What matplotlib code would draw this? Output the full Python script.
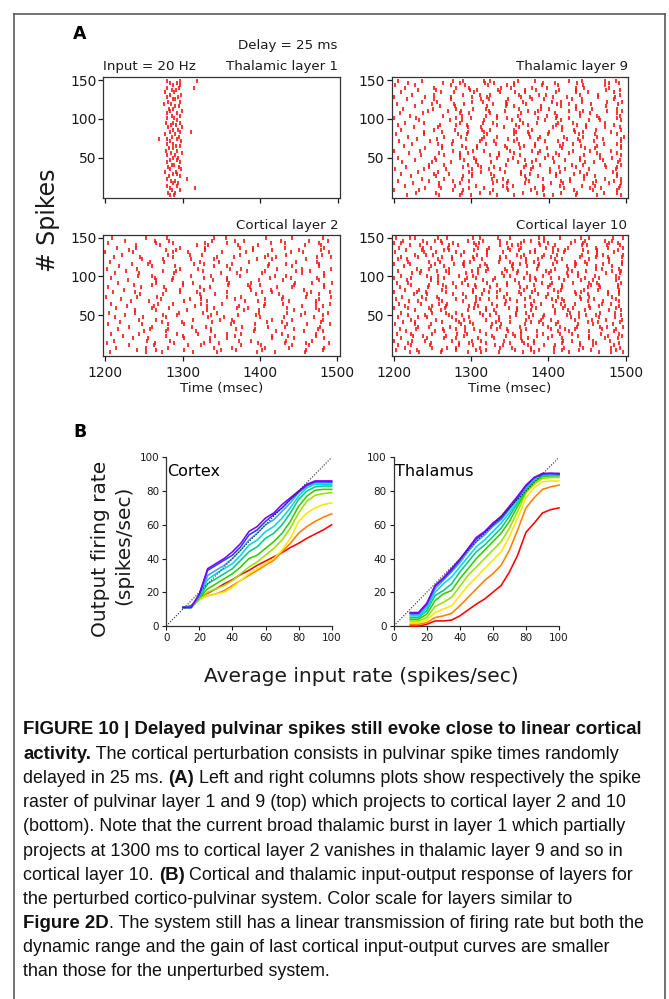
import matplotlib
matplotlib.use("Agg")
import matplotlib.pyplot as plt
from matplotlib.lines import Line2D

# ---------------- data ----------------
T0 = 1200  # spike times are stored as ms after T0
# raster rows: one string per cell row, top row = cell 149, step 3 cells
thal1_rows = [
    "79 96 118", "84 92", "88 97", "80 95 114", "86 91", "77 89", "83 98", "79 94",
    "87 90", "81 97", "76 85", "90 95", "82 88", "84 99", "79 93", "86 97",
    "80 89", "92", "78 87 96", "85 91", "81 99", "88 94", "83 97 111", "77 90",
    "86 95", "69 80 92", "84 98", "79 88", "91 96", "82 87", "78 93", "85 99",
    "80 90", "87 94", "83 92", "79 97", "86 89", "81 95", "84 98", "77 91",
    "88 93", "82 96", "80 106", "85 90", "87 94", "79 92", "83 116", "86 97",
    "81 90", "84 89",
]
thal9_rows = [
    "6 37 77 89 116 125 160 182 226 243 273 287",
    "19 64 85 118 129 155 193 208 237 278 291",
    "2 27 74 92 122 146 156 192 212 245 273",
    "14 52 81 97 139 152 179 198 235 246 278",
    "31 55 98 107 135 170 184 214 235 274 292",
    "9 61 78 104 137 157 169 210 235 251 285",
    "23 52 90 111 125 162 188 197 241 264 292",
    "0 41 74 101 120 165 176 206 224 264 286",
    "17 52 74 113 123 147 178 194 230 243 285",
    "36 56 101 115 145 167 204 216 243 276 295",
    "4 50 78 91 128 146 171 211 226 255 290",
    "27 60 79 121 145 156 190 216 236 274",
    "12 51 81 103 119 162 190 200 235 256 288",
    "44 70 87 123 144 173 187 226 244 275 295",
    "8 38 86 97 124 164 183 208 241 253 289",
    "21 64 88 119 134 160 198 211 240 262 292",
    "1 29 80 100 134 146 187 210 227 265 289",
    "33 73 88 116 153 163 195 216 252 266 293",
    "15 39 85 115 128 167 185 212 232 273",
    "5 60 81 95 133 158 174 209 237 248 285",
    "26 57 96 113 142 162 206 218 248 273 292",
    "10 52 79 114 125 156 178 217 233 261 294",
    "39 62 96 116 158 173 201 234 244 281",
    "3 39 83 95 121 156 175 199 239 260 289",
    "18 65 87 117 133 176 189 220 245 263 297",
    "30 56 93 114 148 159 186 224 238 270 293",
    "7 47 76 112 130 155 196 212 240 259 294",
    "24 57 75 119 132 162 183 219 231 271 288",
    "13 63 88 107 144 168 183 215 242 262 293",
    "41 63 93 107 146 163 198 218 247 260 293",
    "0 34 76 102 117 150 178 189 232 254 281",
    "20 58 85 96 136 155 186 210 227 263 288",
    "35 65 86 124 136 163 199 214 246 266 294",
    "6 53 86 104 133 154 196 206 240 266 282",
    "28 55 91 106 147 170 184 221 240 270 292",
    "11 50 74 106 126 161 178 207 247 259 290",
    "45 65 96 109 145 171 189 230 245 273 294",
    "16 45 90 113 130 168 180 213 235 274 288",
    "2 39 67 101 123 137 177 202 221 252 287",
    "32 57 97 113 144 165 202 215 241 283",
    "9 52 71 101 126 165 176 210 233 250 288",
    "22 54 89 101 129 170 186 210 246 260 289",
    "37 65 88 127 141 171 193 228 246 273 293",
    "5 45 77 97 133 148 175 216 228 261 285",
    "25 59 85 128 146 170 203 219 257 278 293",
    "14 59 79 106 141 154 193 215 243 260 292",
    "40 61 97 116 146 183 194 220 253 268 291",
    "1 33 76 90 128 148 177 193 233 258 288",
    "29 55 88 112 125 167 185 216 237 272 289",
    "17 58 85 100 134 156 194 206 236 262 293",
]
cort2_rows = [
    "9 53 80 141 156 208 241 281", "26 64 83 138 168 180 227 263 288",
    "3 66 88 129 157 214 232 277", "40 71 119 133 172 198 258 279",
    "15 40 96 129 174 191 233 283", "31 78 91 129 191 215 250 279",
    "0 36 87 107 151 182 240 256 289", "22 81 109 125 174 211 234 280",
    "11 45 87 145 166 206 221 274 292", "48 74 111 141 196 215 259",
    "6 58 76 122 147 186 247 274", "34 55 115 128 164 212 234 277",
    "18 61 90 140 157 211 241 276", "2 41 96 120 161 175 222 254 292",
    "27 75 91 126 183 206 246 265", "13 44 89 150 170 203 255 283",
    "42 61 111 137 174 219 234 283", "7 64 88 128 157 213 240 274",
    "29 65 86 139 157 199 230 277", "16 65 100 114 160 188 245 267 293",
    "37 60 101 159 184 200 244 283", "4 46 76 123 136 187 222 242 283",
    "24 79 96 128 188 214 257", "10 38 97 119 157 202 216 266 290",
    "45 75 123 142 195 224 261 277", "1 41 67 124 157 175 230 260 292",
    "20 72 109 124 168 207 228 276", "33 57 102 131 181 198 238 272",
    "8 68 88 124 151 207 230 272 291", "28 63 116 132 173 205 254 281",
    "14 60 82 140 170 184 235 273", "39 66 106 131 179 199 244 277",
    "5 38 95 126 145 199 235 258 288", "25 75 93 137 172 195 253 281",
    "12 49 78 133 154 200 231 270", "43 65 113 148 164 216 241 281",
    "19 73 99 138 166 209 228 279", "3 48 81 102 162 193 235 261 290",
    "31 60 112 130 177 211 233 278", "17 58 81 137 169 194 244 275",
    "50 78 117 137 192 221 257 281", "8 43 93 120 158 175 228 272",
    "23 79 100 142 168 216 236 273", "36 55 102 135 157 216 244 283",
    "11 54 84 136 173 188 234 267", "2 64 89 127 147 197 232 259 289",
    "30 63 107 124 175 201 241 263", "14 53 81 140 164 207 238 283",
    "41 66 102 150 169 203 260 281", "6 53 73 114 144 196 220 258",
]
cort10_rows = [
    "3 21 28 57 69 102 111 135 150 188 194 215 242 253 283 297",
    "12 38 53 61 96 115 137 168 178 195 235 248 273 282",
    "0 9 43 63 77 104 110 147 165 188 200 229 245 279 290",
    "21 34 72 83 107 137 153 161 189 208 243 250 276 293",
    "7 38 48 70 109 123 148 165 197 206 226 262 277 296",
    "16 37 65 71 104 121 150 162 183 213 221 245 263 290",
    "2 39 55 80 91 121 141 176 183 206 220 251 263 285",
    "27 42 51 87 108 121 159 169 195 211 244 263 271 296",
    "9 32 62 76 102 137 145 164 192 204 241 262 277 295",
    "5 17 57 75 104 114 138 171 187 209 218 252 279",
    "19 46 60 91 99 136 151 171 182 211 234 247 279 295",
    "1 21 54 78 90 118 154 163 188 206 236 250 271 295",
    "13 48 65 91 112 121 153 172 186 224 235 262 282",
    "30 46 71 109 122 144 154 185 209 226 261 269 291",
    "6 35 56 67 101 119 146 161 197 204 230 249 282 294",
    "24 34 71 93 109 140 160 172 201 224 238 275 293",
    "10 43 57 84 103 143 151 176 193 225 238 260 288",
    "0 22 48 65 95 107 131 168 183 204 214 247 266 292",
    "17 48 57 92 115 129 157 176 184 220 242 258 287",
    "4 18 57 77 88 121 146 162 192 205 232 253 263 294",
    "22 46 64 96 105 134 147 182 202 217 255 266 290",
    "8 44 67 80 107 124 163 173 199 218 251 267 290",
    "14 33 62 102 117 138 169 183 207 216 246 264 291",
    "0 30 42 67 103 123 134 162 179 212 234 242 277 292",
    "26 43 77 90 114 146 164 187 199 236 251 277 291",
    "11 36 56 93 107 133 142 176 197 213 241 252 282",
    "3 42 58 80 111 123 150 170 205 218 242 259 288",
    "20 31 63 89 107 145 159 181 210 220 251 271 292",
    "7 35 59 69 105 127 144 177 190 216 235 269 281",
    "15 49 68 97 109 134 170 179 206 222 252 266 291",
    "1 18 45 66 104 119 149 160 184 219 232 254 288",
    "28 48 61 96 120 130 159 177 209 225 248 279 294",
    "9 49 67 81 111 132 158 171 208 228 239 267 286",
    "18 41 72 88 115 124 158 180 195 224 249 261 294",
    "5 31 43 76 97 136 150 175 193 229 239 266 286",
    "23 55 80 91 119 136 171 191 203 234 257 274 295",
    "12 27 63 85 99 132 151 178 188 213 251 264 293",
    "2 27 48 87 103 127 139 170 193 210 238 258 284",
    "31 45 73 92 126 137 163 200 215 237 267 276 296",
    "8 29 64 81 104 134 147 171 204 222 234 269 288",
    "16 54 65 92 112 148 164 185 213 227 253 285",
    "4 23 50 82 95 120 154 164 193 215 231 268 292",
    "25 38 68 91 127 145 157 185 205 238 252 277 295",
    "10 43 65 80 109 130 165 174 199 218 252 273 290",
    "0 24 41 75 101 113 143 166 182 219 230 258 280",
    "19 48 84 98 120 151 169 182 217 241 261 291",
    "6 22 47 84 103 131 141 174 195 209 241 258 285",
    "14 49 69 81 112 138 153 177 207 220 245 281 293",
    "3 30 63 81 106 120 157 177 188 217 240 255 287",
    "21 33 61 96 113 136 167 181 207 227 265 281 296",
]

x_in = [10, 15, 20, 25, 30, 35, 40, 45, 50, 55, 60, 65, 70, 75, 80, 85, 90, 95, 100]
layer_colors = ["#ff0000", "#ff8000", "#ffe600", "#9be000", "#33cc00",
                "#00cc80", "#00d8e8", "#3fa0ff", "#2040ff", "#8000ff"]
cortex_out = [
    [11, 12, 17, 19.5, 22, 25, 27.5, 30.5, 33, 36, 38.5, 41, 43.5, 46.5, 49, 52, 54.5, 57, 60],
    [11, 11.5, 16, 18, 19, 21, 24, 27, 30, 33, 36, 39, 44, 49, 55, 59, 62, 64.5, 66.5],
    [11, 11, 15.5, 18, 19, 20, 23, 27, 31, 34, 37, 40, 45, 52, 62, 67, 70, 72, 73],
    [11, 11, 16, 20, 22, 24, 27, 31, 35, 38, 42, 46, 51, 58, 67, 74, 77.5, 78.5, 79],
    [11, 11, 17, 22, 25, 28, 31, 35, 40, 42, 46, 50, 55, 62, 71, 77, 80.5, 81, 81],
    [11, 11, 17, 25, 28, 31, 34, 39, 44, 47, 52, 55, 60, 67, 75, 80, 82.5, 83, 83],
    [11, 11, 18, 27.5, 31, 34, 37, 42, 48, 51, 56, 59, 64, 70, 77, 82, 84, 84, 84],
    [11, 11, 18, 30, 33, 36, 40, 45, 51, 55, 60, 63, 68, 73, 79, 83, 85, 85, 85],
    [11, 11, 19, 33, 36, 39, 42, 47, 54, 57, 62, 66, 70, 75, 79.5, 83.5, 85.5, 85.5, 85.5],
    [11, 11, 19, 34, 37, 40, 44, 49, 56, 59, 64, 67, 72, 76, 80, 84, 86, 86, 86],
]
thalamus_out = [
    [0, 0, 1, 3, 3, 3.5, 6, 9.5, 13, 16, 20, 24, 32, 42, 55.5, 61, 67, 69, 70],
    [1, 1, 2, 5, 6, 7.5, 12, 17, 22, 27, 31, 36, 45, 57, 70, 76, 81, 82.5, 83.5],
    [2, 2, 3.5, 8, 10, 12, 18, 24, 29, 34, 39, 44, 53, 64, 76, 82, 85.5, 86, 86],
    [3, 3, 5, 11.5, 14, 17, 23.5, 30, 35, 40, 45, 50, 58, 68, 79, 84, 87.5, 88, 88],
    [4, 4, 7, 15, 19, 21, 28, 34, 40, 45, 50, 55, 62, 71, 80, 85.5, 88.5, 89, 89],
    [5, 5, 9, 18, 21, 25, 32, 38, 44, 48, 53, 58, 65, 73, 81, 86.5, 89, 89.5, 89.5],
    [6, 6, 10.5, 20, 25, 29, 35, 41, 47, 51, 56, 61, 67, 74, 82, 87, 89.5, 90, 90],
    [7, 7, 12, 22, 27, 32, 37.5, 44, 50, 54, 59, 63, 69, 75.5, 82.5, 87.5, 90, 90, 90],
    [7.5, 7.5, 13, 23.5, 28, 33, 39, 45.5, 51.5, 55.5, 60, 64, 70, 76, 83, 88, 90, 90.5, 90],
    [8, 8, 13.5, 24, 28.5, 34, 39.5, 46, 52.5, 56, 61, 65, 71, 77, 83.5, 88, 90.5, 90.5, 90.5],
]

caption_lines = [
    [("FIGURE 10 | Delayed pulvinar spikes still evoke close to linear cortical", True)],
    [("activity.", True), (" The cortical perturbation consists in pulvinar spike times randomly", False)],
    [("delayed in 25 ms. ", False), ("(A)", True), (" Left and right columns plots show respectively the spike", False)],
    [("raster of pulvinar layer 1 and 9 (top) which projects to cortical layer 2 and 10", False)],
    [("(bottom). Note that the current broad thalamic burst in layer 1 which partially", False)],
    [("projects at 1300 ms to cortical layer 2 vanishes in thalamic layer 9 and so in", False)],
    [("cortical layer 10. ", False), ("(B)", True), (" Cortical and thalamic input-output response of layers for", False)],
    [("the perturbed cortico-pulvinar system. Color scale for layers similar to", False)],
    [("Figure 2D", True), (". The system still has a linear transmission of firing rate but both the", False)],
    [("dynamic range and the gain of last cortical input-output curves are smaller", False)],
    [("than those for the unperturbed system.", False)],
]

# ---------------- figure ----------------
W, H = 669, 999
fig = plt.figure(figsize=(W / 100, H / 100), dpi=100)
fig.patch.set_facecolor("white")


def fx(x):
    return x / W


def fy(y):
    return 1 - y / H


def px_axes(left, top, right, bottom):
    return fig.add_axes([fx(left), fy(bottom), (right - left) / W, (bottom - top) / H])


# outer frame (open at the bottom)
for xs, ys in [([14, 14], [14, H + 5]), ([665, 665], [14, H + 5]), ([14, 665], [14, 14])]:
    fig.add_artist(Line2D([fx(v) for v in xs], [fy(v) for v in ys], color="#5a5a5a", lw=1.2))

ink = "#1a1a1a"


def raster(ax, rows, labels):
    t, n = [], []
    for k, row in enumerate(rows):
        for s in row.split():
            t.append(T0 + int(s))
            n.append(149 - 3 * k)
    ax.plot(t, n, ls="none", marker="|", ms=3.4, mew=1.2, color="#ff1010")
    ax.set_xlim(1197.4, 1503)
    ax.set_ylim(-2.4, 153.5)
    ax.set_xticks([1200, 1300, 1400, 1500])
    ax.set_yticks([50, 100, 150])
    ax.tick_params(direction="out", length=3.5, width=0.9, labelsize=10, pad=1.5,
                   colors=ink, labelbottom=labels)
    ax.tick_params(axis="x", pad=4)
    for sp in ax.spines.values():
        sp.set_linewidth(0.9)
        sp.set_color("#333333")
    if labels:
        ax.set_xlabel("Time (msec)", fontsize=9.6, labelpad=1, color=ink)


ax1 = px_axes(103.3, 77.3, 340, 198.3)
raster(ax1, thal1_rows, False)
ax2 = px_axes(391.7, 77.3, 628.3, 198.3)
raster(ax2, thal9_rows, False)
ax3 = px_axes(103.3, 235, 339.6, 355.7)
raster(ax3, cort2_rows, True)
ax4 = px_axes(391.7, 235, 628, 355.7)
raster(ax4, cort10_rows, True)

tkw = dict(fontsize=9.6, color=ink, va="center")
fig.text(fx(80), fy(34), "A", fontsize=12.5, fontweight="bold", ha="center", va="center")
fig.text(fx(103.3), fy(66.7), "Input = 20 Hz", ha="left", **tkw)
fig.text(fx(337.7), fy(46), "Delay = 25 ms", ha="right", **tkw)
fig.text(fx(337.7), fy(66.7), "Thalamic layer 1", ha="right", **tkw)
fig.text(fx(628), fy(66.7), "Thalamic layer 9", ha="right", **tkw)
fig.text(fx(339), fy(225), "Cortical layer 2", ha="right", **tkw)
fig.text(fx(627), fy(225), "Cortical layer 10", ha="right", **tkw)
fig.text(fx(48), fy(220), "# Spikes", fontsize=17, rotation=90, ha="center", va="center", color=ink)

# ---------------- panel B ----------------
fig.text(fx(80), fy(432), "B", fontsize=12.5, fontweight="bold", ha="center", va="center")


def io_panel(ax, curves, name):
    ax.plot([0, 100], [0, 100], ls=(0, (1, 1.5)), color="#222222", lw=0.8, zorder=4)
    for yv, c in zip(curves, layer_colors):
        ax.plot(x_in, yv, color=c, lw=1.15, clip_on=False, zorder=3)
    ax.set_xlim(0, 100)
    ax.set_ylim(0, 100)
    ax.set_xticks(range(0, 101, 20))
    ax.set_yticks(range(0, 101, 20))
    for s in ["top", "right"]:
        ax.spines[s].set_visible(False)
    for s in ["left", "bottom"]:
        ax.spines[s].set_linewidth(0.9)
        ax.spines[s].set_color("#333333")
    ax.tick_params(direction="out", length=3, width=0.8, labelsize=7.5, pad=2, colors=ink)
    ax.text(0.5, 91.5, name, fontsize=11.5, ha="left", va="center", color="black")


bx1 = px_axes(166.3, 457.3, 331.7, 626)
io_panel(bx1, cortex_out, "Cortex")
bx2 = px_axes(393.7, 457.3, 559, 626)
io_panel(bx2, thalamus_out, "Thalamus")

fig.text(fx(100), fy(549), "Output firing rate", fontsize=14.5, rotation=90, ha="center", va="center", color=ink)
fig.text(fx(124), fy(545), "(spikes/sec)", fontsize=14.5, rotation=90, ha="center", va="center", color=ink)
fig.text(fx(361), fy(676), "Average input rate (spikes/sec)", fontsize=14.5, ha="center", va="center", color=ink)

# ---------------- caption ----------------
cap = fig.add_axes([0, 0, 1, 1])
cap.set_axis_off()
cap.set_xlim(0, W)
cap.set_ylim(H, 0)
cap_font = ["Liberation Sans", "DejaVu Sans"]
for i, segs in enumerate(caption_lines):
    y = 730 + 24.2 * i
    prev = None
    for text, bold in segs:
        kw = dict(fontsize=13.4 if bold else 12.9, family=cap_font,
                  fontweight="bold" if bold else "normal", color="#111111")
        if prev is None:
            prev = cap.text(23, y, text, ha="left", va="center", **kw)
        else:
            prev = cap.annotate(text, xy=(1, 0), xycoords=prev, ha="left", va="bottom", **kw)

fig.savefig("out.png", dpi=100)
